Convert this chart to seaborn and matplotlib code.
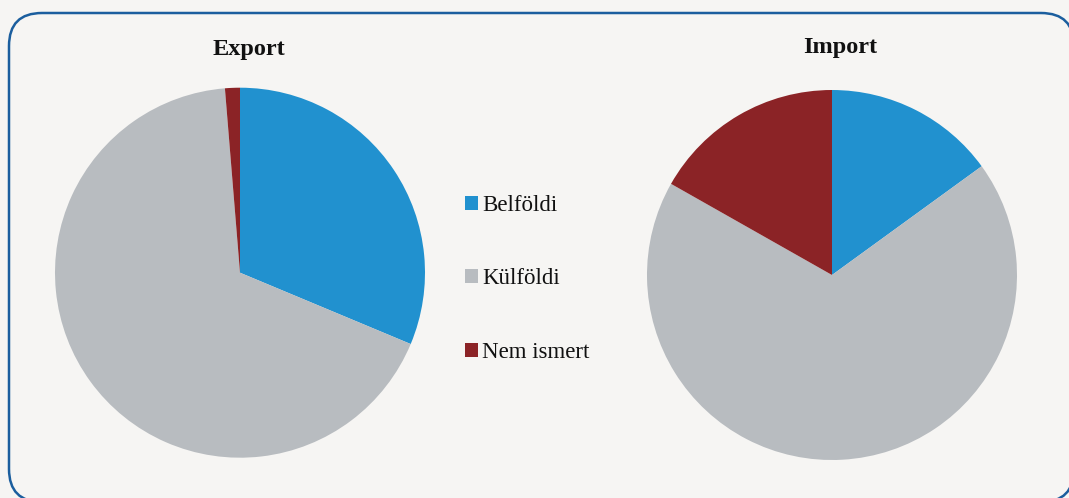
import matplotlib
matplotlib.use("Agg")
import matplotlib.pyplot as plt
import seaborn as sns
from matplotlib.patches import FancyBboxPatch, Patch

# categories and shares (%)
categories = ["Belföldi", "Külföldi", "Nem ismert"]
export_share = [31.3, 67.4, 1.3]
import_share = [15.0, 68.2, 16.8]
titles = ["Export", "Import"]
colors = ["#2191cf", "#b8bcc0", "#8b2326"]

sns.set_theme(style="white")
plt.rcParams["font.family"] = ["Liberation Serif", "DejaVu Serif"]

W, H = 1069, 498
bg = "#f6f5f3"
fig = plt.figure(figsize=(W / 100, H / 100), dpi=100)
fig.patch.set_facecolor(bg)

# rounded frame (in inches so the corners stay round); right and bottom run off the picture.
# filled with the background colour so Agg does not clip the curved corners oddly
frame = FancyBboxPatch((0.09, -0.04), 10.65, 4.89,
                       boxstyle="round,pad=0,rounding_size=0.33",
                       transform=fig.dpi_scale_trans, facecolor=bg,
                       edgecolor="#1b5e9e", linewidth=1.8, zorder=-1)
fig.patches.append(frame)

R = 185
centers = [(240, 272.7), (832, 275)]
title_pos = [(249, 50), (840, 47)]

for data, title, (cx, cy), (tx, ty) in zip([export_share, import_share], titles, centers, title_pos):
    ax = fig.add_axes([(cx - R) / W, (H - cy - R) / H, 2 * R / W, 2 * R / H])
    ax.pie(data, colors=colors, startangle=90, counterclock=False,
           wedgeprops=dict(linewidth=0), radius=1)
    ax.set_xlim(-1, 1)
    ax.set_ylim(-1, 1)
    ax.set_aspect("equal")
    ax.axis("off")
    fig.text(tx / W, 1 - ty / H, title, ha="center", va="center",
             fontsize=17.5, fontweight="bold", color="#111111")

handles = [Patch(facecolor=c, edgecolor="none") for c in colors]
fig.legend(handles, categories, loc="center left",
           bbox_to_anchor=(465 / W, 1 - 279 / H), frameon=False,
           fontsize=16.5, labelspacing=2.3, handlelength=0.55,
           handleheight=0.55, handletextpad=0.2, borderpad=0,
           borderaxespad=0, labelcolor="#111111")

fig.savefig("out.png", dpi=100, facecolor=fig.get_facecolor())
